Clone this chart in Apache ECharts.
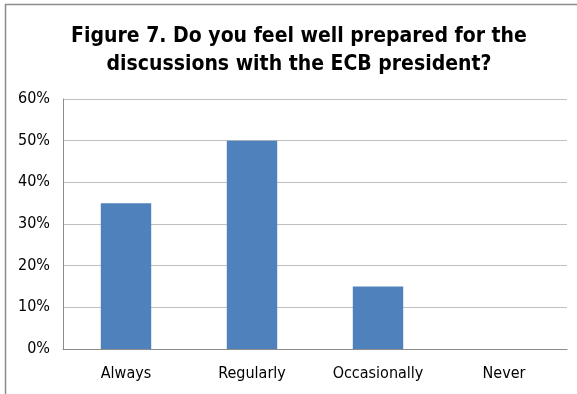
<!DOCTYPE html>
<html><head><meta charset="utf-8">
<script src="https://cdn.jsdelivr.net/npm/echarts@6/dist/echarts.min.js"></script>
<style>html,body{margin:0;padding:0;background:#fff}#c{width:577px;height:394px}</style>
</head><body><div id="c"></div>
<script>
const titleText = "Figure 7. Do you feel well prepared for the\ndiscussions with the ECB president?";
const categories = ["Always", "Regularly", "Occasionally", "Never"];
const values = [35, 50, 15, 0];
const yTicks = [0, 10, 20, 30, 40, 50, 60];

const chart = echarts.init(document.getElementById('c'), null, {renderer: 'canvas'});
chart.setOption({
  animation: false,
  backgroundColor: '#fff',
  title: {
    text: titleText,
    left: 294, top: 18, textAlign: 'center',
    textStyle: {fontFamily: 'DejaVu Sans Condensed, DejaVu Sans', fontWeight: 'bold', fontSize: 21, lineHeight: 28, color: '#000'}
  },
  graphic: [
    {type: 'polyline', shape: {points: [[5.5, 394], [5.5, 4.5], [577, 4.5]]}, style: {stroke: '#8c8c8c', lineWidth: 1.5, fill: null}, silent: true}
  ],
  grid: {left: 63, right: 10, top: 99, bottom: 45, containLabel: false},
  xAxis: {
    type: 'category', data: categories,
    axisLine: {lineStyle: {color: '#8c8c8c', width: 1}},
    axisTick: {show: false},
    axisLabel: {fontFamily: 'DejaVu Sans Condensed, DejaVu Sans', fontSize: 16, color: '#000', margin: 17}
  },
  yAxis: {
    type: 'value', min: yTicks[0], max: yTicks[yTicks.length - 1], interval: 10,
    axisLine: {show: true, lineStyle: {color: '#8c8c8c'}},
    axisTick: {show: false},
    splitLine: {lineStyle: {color: '#bfbfbf', width: 1}},
    axisLabel: {formatter: '{value}%', fontFamily: 'DejaVu Sans Condensed, DejaVu Sans', fontSize: 16, color: '#000', margin: 13}
  },
  series: [{
    type: 'bar', data: values, barWidth: '40%',
    itemStyle: {color: '#4f81bd'}
  }]
});
</script></body></html>
